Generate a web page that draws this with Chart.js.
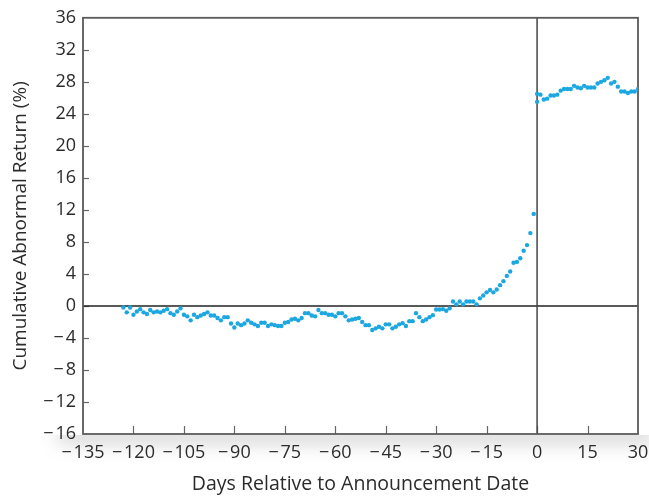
<!DOCTYPE html>
<html>
<head>
<meta charset="utf-8">
<script src="https://cdn.jsdelivr.net/npm/chart.js@4.4.1/dist/chart.umd.min.js"></script>
<style>
  html, body { margin: 0; padding: 0; background: #fff; }
  #wrap { width: 649px; height: 496px; }
</style>
</head>
<body>
<div id="wrap"><canvas id="carChart" width="649" height="496"></canvas></div>
<script>
// days relative to the announcement, pre-event run starts here
const preStart = -123;

// cumulative abnormal return (%), days -123 .. -1
const preCar = [
    -0.2, -0.8, -0.2, -1.1, -0.7, -0.4, -0.8, -1.0, -0.5, -0.8,   // -123 .. -114
    -0.7, -0.8, -0.6, -0.4, -0.9, -1.1, -0.7, -0.3, -1.1, -1.3,   // -113 .. -104
    -1.8, -1.1, -1.4, -1.2, -1.0, -0.8, -1.2, -1.2, -1.5, -1.8,   // -103 .. -94
    -1.4, -1.4, -2.2, -2.7, -2.2, -2.4, -2.2, -1.8, -2.1, -2.3,   // -93 .. -84
    -2.5, -2.1, -2.1, -2.5, -2.3, -2.4, -2.5, -2.5, -2.1, -2.0,   // -83 .. -74
    -1.7, -1.6, -1.8, -1.5, -0.9, -0.9, -1.2, -1.3, -0.5, -0.9,   // -73 .. -64
    -0.9, -1.1, -1.1, -1.3, -0.9, -0.9, -1.3, -1.8, -1.7, -1.6,   // -63 .. -54
    -1.5, -2.0, -2.4, -2.4, -3.0, -2.8, -2.6, -2.8, -2.3, -2.3,   // -53 .. -44
    -2.8, -2.6, -2.3, -2.15, -2.5, -1.9, -1.9, -0.9, -1.4, -1.9,  // -43 .. -34
    -1.7, -1.4, -1.15, -0.45, -0.45, -0.4, -0.6, -0.3, 0.55, 0.2, // -33 .. -24
    0.55, 0.2, 0.55, 0.55, 0.55, 0.2, 0.95, 1.3, 1.7, 2.0,        // -23 .. -14
    1.7, 2.05, 2.6, 3.1, 3.75, 4.3, 5.4, 5.5, 5.95, 6.9,          // -13 .. -4
    7.6, 9.1, 11.5                                                 // -3 .. -1
];

// post-announcement days (day 0 shows two dots in the figure)
const postDays = [0, 0, 1, 2, 3, 4, 5, 6, 7, 8, 9, 10, 11, 12, 13, 14, 15,
    16, 17, 18, 19, 20, 21, 22, 23, 24, 25, 26, 27, 28, 29, 30];
const postCar = [25.5, 26.5, 26.4, 25.8, 25.9, 26.3, 26.3, 26.4, 26.9, 27.1, 27.1,
    27.1, 27.5, 27.3, 27.2, 27.5, 27.3, 27.3, 27.3, 27.8, 28.0, 28.2, 28.5, 27.8,
    28.0, 27.4, 26.8, 26.8, 26.6, 26.8, 26.8, 27.1];

const xTicks = [-135, -120, -105, -90, -75, -60, -45, -30, -15, 0, 15, 30];
const yTicks = [-16, -12, -8, -4, 0, 4, 8, 12, 16, 20, 24, 28, 32, 36];

const dotColor = '#1ca7e0';
const textColor = '#2b2b2b';
const fontFamily = "'Open Sans', 'Liberation Sans', sans-serif";

const minus = v => (v < 0 ? '\u2212\u200A' + Math.abs(v) : String(v));

const points = preCar.map((v, i) => ({ x: preStart + i, y: v }))
    .concat(postDays.map((d, i) => ({ x: d, y: postCar[i] })));

// frame, zero lines and inward tick marks
const framePlugin = {
    id: 'frame',
    beforeDraw(chart) {
        // faint shadow under the plot, as in the printed figure
        const { ctx, chartArea: a } = chart;
        ctx.save();
        ctx.beginPath();
        ctx.rect(0, a.bottom + 1, chart.width, chart.height - a.bottom);
        ctx.clip();
        ctx.filter = 'blur(9px)';
        ctx.fillStyle = 'rgba(0,0,0,0.16)';
        ctx.fillRect(a.left - 25, a.bottom - 6, a.right - a.left + 40, 16);
        ctx.restore();
    },
    beforeDatasetsDraw(chart) {
        const { ctx, chartArea: a, scales: { x, y } } = chart;
        ctx.save();
        ctx.strokeStyle = '#666';
        ctx.lineWidth = 1.2;
        yTicks.forEach(t => {
            if (t === yTicks[0] || t === yTicks[yTicks.length - 1]) return;
            const py = Math.round(y.getPixelForValue(t)) + 0.5;
            ctx.beginPath();
            ctx.moveTo(a.left, py);
            ctx.lineTo(a.left + 6, py);
            ctx.stroke();
        });
        xTicks.forEach(t => {
            if (t === xTicks[0] || t === xTicks[xTicks.length - 1]) return;
            const px = Math.round(x.getPixelForValue(t)) + 0.5;
            ctx.beginPath();
            ctx.moveTo(px, a.bottom);
            ctx.lineTo(px, a.bottom - 8);
            ctx.stroke();
        });

        // zero lines
        ctx.strokeStyle = '#222';
        ctx.lineWidth = 1.5;
        const y0 = y.getPixelForValue(0);
        ctx.beginPath();
        ctx.moveTo(a.left, y0);
        ctx.lineTo(a.right, y0);
        ctx.stroke();
        const x0 = x.getPixelForValue(0);
        ctx.strokeStyle = '#444';
        ctx.beginPath();
        ctx.moveTo(x0, a.top);
        ctx.lineTo(x0, a.bottom);
        ctx.stroke();

        // box
        ctx.strokeStyle = '#5a5a5a';
        ctx.lineWidth = 1.8;
        ctx.strokeRect(a.left, a.top, a.right - a.left, a.bottom - a.top);
        ctx.restore();
    }
};

new Chart(document.getElementById('carChart'), {
    type: 'scatter',
    data: {
        datasets: [{
            label: 'CAR',
            data: points,
            backgroundColor: dotColor,
            borderWidth: 0,
            pointRadius: 2.2,
            pointHoverRadius: 2.2
        }]
    },
    options: {
        responsive: false,
        devicePixelRatio: 1,
        animation: false,
        layout: { padding: { top: 17, right: 11, left: 0, bottom: 0 } },
        plugins: { legend: { display: false }, tooltip: { enabled: false } },
        scales: {
            x: {
                type: 'linear',
                min: -135,
                max: 30,
                afterBuildTicks: s => { s.ticks = xTicks.map(v => ({ value: v })); },
                afterFit: s => {
                    s.height = 62;
                    s.paddingLeft = 0;
                    s.paddingRight = 0;
                },
                grid: { display: false, drawTicks: false },
                border: { display: false },
                ticks: {
                    padding: 8,
                    color: textColor,
                    font: { family: fontFamily, size: 18 },
                    maxRotation: 0,
                    autoSkip: false,
                    callback: v => minus(v)
                },
                title: {
                    display: true,
                    text: 'Days Relative to Announcement Date',
                    color: textColor,
                    font: { family: fontFamily, size: 19.5 },
                    padding: { top: 0, bottom: 0 }
                }
            },
            y: {
                type: 'linear',
                min: -16,
                max: 36,
                afterBuildTicks: s => { s.ticks = yTicks.map(v => ({ value: v })); },
                afterFit: s => { s.width = 83; },
                grid: { display: false, drawTicks: false },
                border: { display: false },
                ticks: {
                    padding: 7,
                    color: textColor,
                    font: { family: fontFamily, size: 18 },
                    autoSkip: false,
                    callback: v => minus(v)
                },
                title: {
                    display: true,
                    text: 'Cumulative Abnormal Return (%)',
                    color: textColor,
                    font: { family: fontFamily, size: 19 },
                    padding: { top: 9, bottom: 0 }
                }
            }
        }
    },
    plugins: [framePlugin]
});
</script>
</body>
</html>
